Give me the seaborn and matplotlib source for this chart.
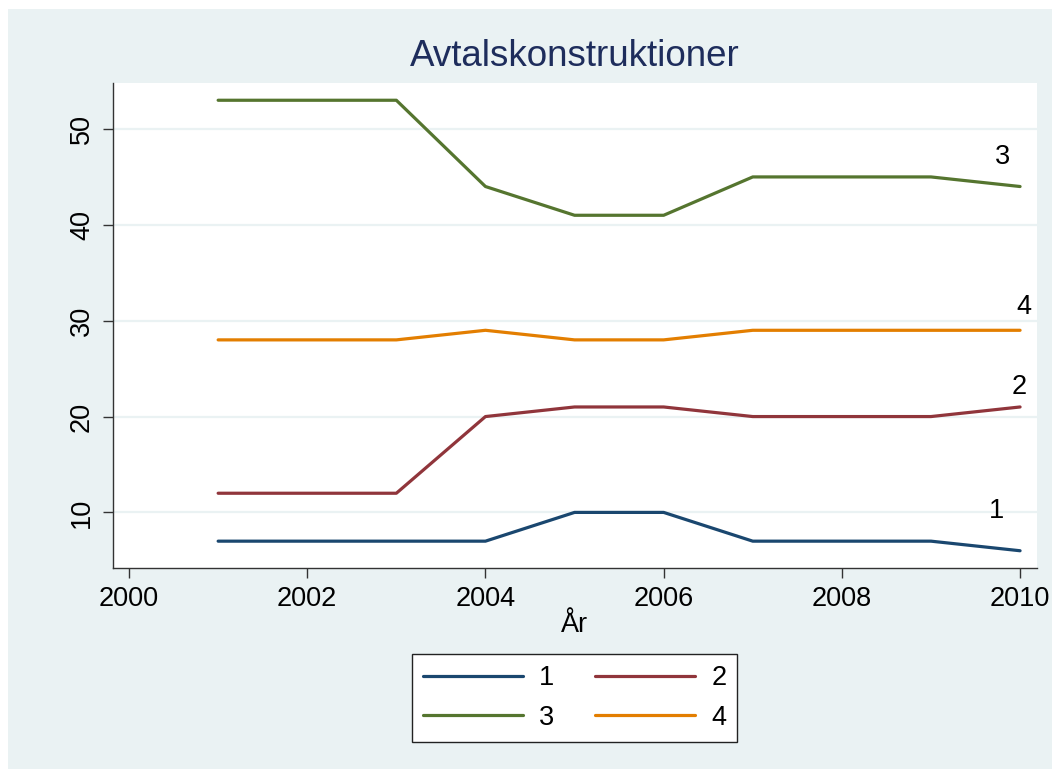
import numpy as np
import pandas as pd
import matplotlib
matplotlib.use("Agg")
import matplotlib.pyplot as plt
import matplotlib.patches as mpatches
from matplotlib.lines import Line2D
import seaborn as sns

years = [2001, 2002, 2003, 2004, 2005, 2006, 2007, 2008, 2009, 2010]
s1 = [7, 7, 7, 7, 10, 10, 7, 7, 7, 6]
s2 = [12, 12, 12, 20, 21, 21, 20, 20, 20, 21]
s3 = [53, 53, 53, 44, 41, 41, 45, 45, 45, 44]
s4 = [28, 28, 28, 29, 28, 28, 29, 29, 29, 29]
series_names = ["1", "2", "3", "4"]
x_ticks = [2000, 2002, 2004, 2006, 2008, 2010]
y_ticks = [10, 20, 30, 40, 50]
title = "Avtalskonstruktioner"
xlabel = "År"

colors = {"1": "#1A476F", "2": "#90353B", "3": "#55752F", "4": "#E37E00"}
bg = "#EAF2F3"

df = pd.concat([
    pd.DataFrame({"year": years, "value": vals, "serie": name})
    for name, vals in zip(series_names, [s1, s2, s3, s4])
], ignore_index=True)

sns.set_style("white")
plt.rcParams['font.family'] = ['Liberation Sans', 'DejaVu Sans']
plt.rcParams['text.color'] = 'black'
plt.rcParams['xtick.color'] = 'black'
plt.rcParams['ytick.color'] = 'black'
plt.rcParams['axes.labelcolor'] = 'black'

W, H = 1052, 769
fig = plt.figure(figsize=(W / 100, H / 100), dpi=100, facecolor="white")
fig.patches.append(mpatches.Rectangle((8 / W, 0), 1 - 8 / W, 1 - 9 / H,
                                      transform=fig.transFigure, facecolor=bg,
                                      edgecolor="none", zorder=-10))

left, right, top, bottom = 113, 1037, 83, 568
ax = fig.add_axes([left / W, 1 - bottom / H, (right - left) / W, (bottom - top) / H])
ax.set_facecolor("white")

sns.lineplot(data=df, x="year", y="value", hue="serie", palette=colors,
             linewidth=2.3, ax=ax, legend=False, zorder=3)

ax.set_xlim(1999.82, 2010.19)
ax.set_ylim(4.2, 54.8)
ax.set_xticks(x_ticks)
ax.set_yticks(y_ticks)
ax.set_xticklabels([str(t) for t in x_ticks], fontsize=19.5)
ax.set_yticklabels([str(t) for t in y_ticks], fontsize=19.5, rotation=90, va="center")
ax.tick_params(axis="both", direction="out", length=7, width=1.0, color="#333333",
               labelcolor="black", bottom=True, left=True, pad=6)
ax.yaxis.grid(True, color=bg, linewidth=1.6, zorder=0)
ax.xaxis.grid(False)
for s in ["top", "right"]:
    ax.spines[s].set_visible(False)
for s in ["left", "bottom"]:
    ax.spines[s].set_color("#333333")
    ax.spines[s].set_linewidth(1.0)

ax.set_xlabel(xlabel, fontsize=19.5, labelpad=0, color="black")
ax.set_ylabel("")
ax.set_title(title, fontsize=26.5, color="#1E2D5C", pad=12)

# end labels
offsets = {"1": (-24, 40), "2": (-1, 20), "3": (-18, 30), "4": (4, 23)}
for name, vals in zip(series_names, [s1, s2, s3, s4]):
    ax.annotate(name, (years[-1], vals[-1]), xytext=offsets[name],
                textcoords="offset pixels", ha="center", va="center",
                fontsize=19.5, color="black", annotation_clip=False)

handles = {n: Line2D([0], [0], color=colors[n], linewidth=2.3) for n in series_names}
order = ["1", "3", "2", "4"]  # column-major fill -> rows "1 2" / "3 4"
leg = fig.legend([handles[n] for n in order], order, ncol=2, loc="center",
                 bbox_to_anchor=((413 + 736) / 2 / W, 1 - (654 + 742) / 2 / H),
                 frameon=True, fancybox=False, edgecolor="#222222", fontsize=19.5,
                 handlelength=3.7, columnspacing=1.5, handletextpad=0.6,
                 labelspacing=0.5, borderpad=0.4, borderaxespad=0, framealpha=1)
leg.get_frame().set_linewidth(1.0)
leg.get_frame().set_facecolor("white")

fig.savefig("out.png", dpi=100, facecolor=fig.get_facecolor())
